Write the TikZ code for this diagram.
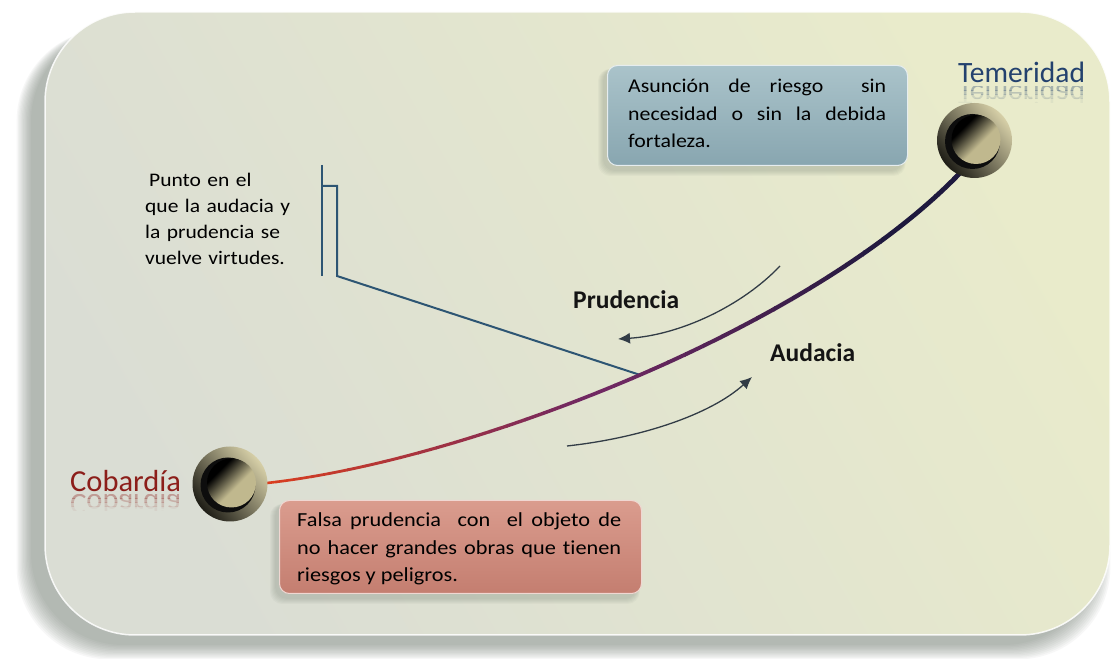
\documentclass[tikz,border=0pt]{standalone}
\usepackage{fontspec}
\setmainfont{Carlito}[Ligatures=NoCommon]
\newfontfamily\widefont{Carlito}[FakeStretch=1.12,Ligatures=NoCommon]
\usetikzlibrary{arrows.meta}
\definecolor{bgG}{RGB}{218,221,212}
\definecolor{bgY}{RGB}{233,235,203}
\definecolor{shad}{RGB}{110,122,110}
\definecolor{boxBa}{RGB}{170,195,202}
\definecolor{boxBb}{RGB}{136,166,176}
\definecolor{boxPa}{RGB}{218,156,142}
\definecolor{boxPb}{RGB}{196,126,112}
\definecolor{lineB}{RGB}{45,85,115}
\definecolor{arrC}{RGB}{50,60,70}
\definecolor{khakiL}{RGB}{215,208,168}
\definecolor{khakiM}{RGB}{190,183,140}
\definecolor{khakiD}{RGB}{30,29,22}
\definecolor{khakiI}{RGB}{192,184,142}
\definecolor{temC}{RGB}{35,65,110}
\definecolor{cobC}{RGB}{140,30,26}
\definecolor{redc}{RGB}{218,62,30}
\definecolor{purp}{RGB}{112,40,98}
\definecolor{navyc}{RGB}{30,25,62}
\pgfdeclarehorizontalshading{knobin}{100bp}{color(0bp)=(black); color(32bp)=(black); color(44bp)=(black!50!khakiI); color(56bp)=(khakiI); color(100bp)=(khakiI)}
\begin{document}
\begin{tikzpicture}[x=1pt,y=1pt,
  knob/.style={circle, minimum size=75pt, inner sep=0pt, draw=none,
    top color=khakiL, middle color=khakiM, bottom color=khakiD, shading angle=-50},
  knobcore/.style={shading=knobin, shading angle=-45},
  boxtext/.style={anchor=base west, inner sep=0pt, align=justify,
    font=\widefont\fontsize{19.5}{27.5}\selectfont, text=black},
  lbl/.style={anchor=base west, inner sep=0pt},
  vline/.style={draw=lineB, line width=2pt},
  flow/.style={draw=arrC, line width=1.3pt, -{Latex[length=12pt,width=11pt]}},
  bigword/.style={anchor=base west, inner sep=0pt, font=\bfseries\fontsize{25.5}{28}\selectfont, text=black!92}
]
\useasboundingbox (0,0) rectangle (1112,659);
\fill[white] (0,0) rectangle (1112,659);
% shadow of the panel
\foreach \k in {0,...,11}{
  \pgfmathsetmacro\e{\k*1.3}
  \fill[shad, opacity=0.055, rounded corners=92pt]
    (31-\e,14-\e) rectangle (1096+\e,630);
}
% panel
\shade[top color=bgY, bottom color=bgG, shading angle=-60, rounded corners=90pt]
  (45,24) rectangle (1110,647);
\draw[white, opacity=0.85, line width=1.5pt, rounded corners=90pt]
  (45,24) rectangle (1110,647);

% box shadows
\foreach \k in {0,...,5}{
  \fill[shad, opacity=0.05, rounded corners=12pt]
    (603-\k,488-\k) rectangle (903+\k*0.5,590);
  \fill[shad, opacity=0.05, rounded corners=12pt]
    (275-\k,60-\k) rectangle (637+\k*0.5,155);
}
% boxes
\node[draw=white!70!boxBa, line width=1pt, rounded corners=10pt, top color=boxBa, bottom color=boxBb,
  minimum width=300pt, minimum height=100pt, anchor=north west, inner sep=0pt] (blue) at (607,594) {};
\node[draw=white!60!boxPa, line width=1pt, rounded corners=10pt, top color=boxPa, bottom color=boxPb,
  minimum width=362pt, minimum height=93pt, anchor=north west, inner sep=0pt] (pink) at (279,159) {};

\node[boxtext, text width=258pt] (bluetxt) at (628,566)
  {Asunción de riesgo\ \ sin\linebreak necesidad o sin la debida\linebreak fortaleza.};
\node[boxtext, text width=324pt, font=\widefont\fontsize{19.9}{27.5}\selectfont] (pinktxt) at (297,132)
  {Falsa prudencia\ \ con\ \ el objeto de\linebreak no hacer grandes obras que tienen\linebreak riesgos y peligros.};

% left explanatory text
\node[lbl, text width=170pt, align=left, font=\widefont\fontsize{19.2}{26}\selectfont, text=black] (punto) at (145,472)
  {\hspace*{4pt}Punto en el\\que la audacia y\\la prudencia se\\vuelve virtudes.};

% main curve control points
\coordinate (c0) at (267,176);
\coordinate (c1) at (467,198);
\coordinate (c2) at (810,330);
\coordinate (c3) at (960,486);
\path (c0) .. controls (c1) and (c2) .. (c3) coordinate[pos=0.51] (meet);

% bracket line
\coordinate (b1) at (322,494);
\coordinate (b2) at (322,383);
\coordinate (b3) at (322,473);
\coordinate (b4) at (337,473);
\coordinate (b5) at (337,383);
\draw[vline] (b1) -- (b2);
\draw[vline, line join=miter] (b3) -- (b4) -- (b5) -- (meet);

% gradient main curve
\foreach \k in {0,...,39}{
  \pgfmathsetmacro\f{\k/39}
  \pgfmathsetmacro\xa{258+\k*17.8}
  \pgfmathsetmacro\xb{\xa+18.4}
  \pgfmathsetmacro\p{min(100,220*\f)}
  \pgfmathsetmacro\q{max(0,min(100,250*\f-125))}
  \pgfmathsetmacro\lw{2.6+2.2*\f}
  \colorlet{tmpc}{purp!\p!redc}
  \colorlet{segc}{navyc!\q!tmpc}
  \begin{scope}
    \clip (\xa,100) rectangle (\xb,560);
    \draw[segc, line width=\lw pt] (c0) .. controls (c1) and (c2) .. (c3);
  \end{scope}
}

% knobs
\node[knob] (tem) at (974.5,518.5) {};
\fill[black!95] ([shift={(-2,-1)}]tem.center) circle (27.5);
\shade[knobcore] ([shift={(1.5,1)}]tem.center) circle (24.5);
\node[knob] (cob) at (230,175) {};
\fill[black!95] ([shift={(-2,-1)}]cob.center) circle (27.5);
\shade[knobcore] ([shift={(1.5,1)}]cob.center) circle (24.5);

% labels with reflections
\node[lbl, font=\fontsize{29.5}{30}\selectfont, text=temC] (temlbl) at (958,576) {Temeridad};
\foreach \s/\o in {0/0.34,4/0.24,8/0.14,12/0.06}{
  \begin{scope}
    \clip (950,568-\s) rectangle (1100,572.01-\s);
    \node[lbl, font=\fontsize{29.5}{30}\selectfont, text=temC, opacity=\o, yscale=-1] at (958,573) {Temeridad};
  \end{scope}
}
\node[lbl, font=\fontsize{30.5}{31}\selectfont, text=cobC] (coblbl) at (70,167) {Cobardía};
\foreach \s/\o in {0/0.34,4/0.24,8/0.14,12/0.06}{
  \begin{scope}
    \clip (60,160-\s) rectangle (190,164.01-\s);
    \node[lbl, font=\fontsize{30.5}{31}\selectfont, text=cobC, opacity=\o, yscale=-1] at (70,164) {Cobardía};
  \end{scope}
}

\node[bigword] (prud) at (573,350) {Prudencia};
\node[bigword] (aud) at (770,297) {Audacia};

% flow arrows
\coordinate (p0) at (780,393);
\coordinate (p3) at (618,320);
\draw[flow] (p0) .. controls (742,353) and (680,324) .. (p3);
\coordinate (a0) at (567,213);
\coordinate (a3) at (752,282);
\draw[flow] (a0) .. controls (640,221) and (710,244) .. (a3);
\end{tikzpicture}
\end{document}
